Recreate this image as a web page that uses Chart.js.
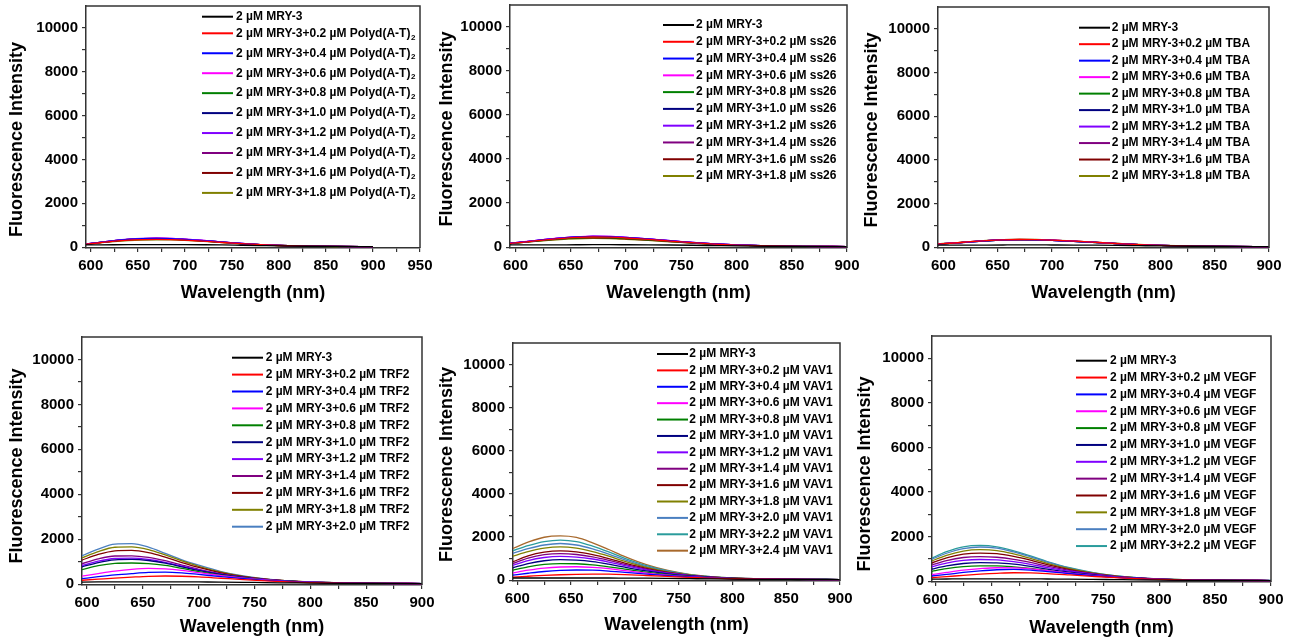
<!DOCTYPE html>
<html>
<head>
<meta charset="utf-8">
<title>MRY-3 titration spectra</title>
<script src="https://cdn.jsdelivr.net/npm/chart.js@4.4.1/dist/chart.umd.min.js"></script>
<style>
  html, body { margin:0; padding:0; background:#fff; }
  #wrap { position:relative; width:1295px; height:643px; overflow:hidden; background:#fff; }
  #wrap canvas { position:absolute; }
</style>
</head>
<body>
<div id="wrap"></div>
<script>
// emission wavelengths (nm) the spectra were read at
const wavelength = [595,610,625,640,655,670,685,700,720,740,760,780,800,830,860,900];

// added concentrations (µM)
const conc10 = ['0.2','0.4','0.6','0.8','1.0','1.2','1.4','1.6','1.8'];
const conc11 = ['0.2','0.4','0.6','0.8','1.0','1.2','1.4','1.6','1.8','2.0'];
const conc12 = ['0.2','0.4','0.6','0.8','1.0','1.2','1.4','1.6','1.8','2.0','2.2'];
const conc13 = ['0.2','0.4','0.6','0.8','1.0','1.2','1.4','1.6','1.8','2.0','2.2','2.4'];

// tick marks (every one) and the ones that get a label
const yTickMarks = [0,1000,2000,3000,4000,5000,6000,7000,8000,9000,10000];
const yTickLabels = [0,2000,4000,6000,8000,10000];
const xTickMarks = [600,625,650,675,700,725,750,775,800,825,850,875,900,925,950];
const xTickLabels = [600,650,700,750,800,850,900,950];

const lineColors = ['#000000','#FF0000','#0000FF','#FF00FF','#008000','#000080','#8000FF',
                    '#800080','#800000','#808000','#4A7FC0','#2A9C9C','#A8692C'];

// fluorescence intensity, one row per sample (first row = MRY-3 alone)
const polydData = [
  [100,105,108,110,112,115,115,113,108,100,85,70,55,40,30,20],
  [130,200,270,320,345,355,345,320,270,210,155,110,75,45,30,20],
  [140,215,295,355,390,400,390,355,300,230,165,115,78,46,30,20],
  [140,215,295,355,392,405,395,360,302,232,166,116,78,46,30,20],
  [135,210,285,340,370,380,370,340,285,222,160,112,76,45,30,20],
  [138,212,290,350,385,395,385,352,298,228,163,114,77,46,30,20],
  [142,220,300,362,398,410,400,365,305,235,168,117,79,46,30,20],
  [140,216,296,356,392,402,392,358,300,231,165,115,78,46,30,20],
  [132,205,278,333,362,372,362,333,280,218,158,111,75,45,30,20],
  [125,190,255,300,325,335,328,305,260,205,150,106,73,44,29,20]
];
const ss26Data = [
  [100,100,102,105,108,110,110,108,104,97,85,70,55,40,30,22],
  [170,240,320,390,440,460,450,415,350,275,200,140,95,55,35,25],
  [175,250,335,410,465,490,480,440,370,290,210,145,98,56,36,25],
  [178,255,340,415,470,495,485,445,375,292,212,146,98,56,36,25],
  [165,235,310,375,420,440,430,395,335,262,192,135,92,54,35,25],
  [170,245,325,400,455,478,468,430,362,283,205,142,96,55,36,25],
  [176,252,338,412,468,492,482,442,372,291,211,146,98,56,36,25],
  [172,248,330,405,460,483,473,435,366,286,207,143,97,56,36,25],
  [165,232,305,365,405,420,412,380,322,252,185,130,90,53,35,25],
  [160,225,290,345,380,395,388,358,305,240,177,125,87,52,34,25]
];
const tbaData = [
  [90,90,92,95,98,100,100,98,95,90,80,67,54,40,30,22],
  [150,190,250,300,335,350,345,320,275,220,165,118,82,50,34,25],
  [145,185,243,292,326,340,336,312,268,215,162,116,80,49,33,25],
  [148,188,247,296,330,345,340,316,272,218,164,117,81,50,34,25],
  [143,182,240,288,322,336,332,308,265,213,160,115,80,49,33,25],
  [140,180,236,284,318,332,328,305,262,211,159,114,79,49,33,25],
  [146,186,245,294,328,342,338,314,270,217,163,117,81,50,34,25],
  [144,184,242,290,324,338,334,310,267,214,161,116,80,49,33,25],
  [150,192,252,302,338,352,347,322,277,222,166,119,82,50,34,25],
  [155,195,255,305,340,355,350,325,280,224,168,120,83,51,34,25]
];
const trf2Data = [
  [90,95,100,100,100,100,100,95,90,80,65,55,45,35,28,22],
  [170,220,270,310,345,360,350,320,260,200,145,100,70,45,32,25],
  [240,330,410,470,520,535,500,430,330,240,165,115,80,48,33,25],
  [350,470,580,660,700,680,610,510,380,270,185,125,85,50,34,25],
  [640,820,920,940,910,830,700,560,400,280,190,128,86,50,34,25],
  [760,960,1080,1100,1050,930,770,610,430,295,198,132,88,50,34,25],
  [820,1020,1140,1160,1100,970,800,630,440,300,200,133,88,50,34,25],
  [900,1120,1250,1260,1190,1040,850,660,455,308,204,135,89,50,34,25],
  [1060,1320,1480,1500,1400,1200,960,740,500,330,215,140,92,52,35,25],
  [1160,1450,1640,1660,1540,1300,1030,790,530,345,222,144,94,53,35,25],
  [1250,1560,1780,1800,1650,1370,1080,840,560,360,230,148,96,54,36,26]
];
const vav1Data = [
  [100,100,100,100,100,100,100,95,90,80,68,56,46,36,30,25],
  [140,180,220,250,270,280,275,255,215,170,125,90,65,45,33,26],
  [230,320,400,450,470,460,420,360,280,205,145,100,70,47,34,26],
  [330,460,560,610,620,590,530,440,330,235,160,108,74,48,34,26],
  [450,620,730,770,760,710,620,510,370,260,172,115,78,50,35,26],
  [560,770,900,950,930,860,740,600,430,295,192,125,83,52,36,26],
  [670,910,1050,1100,1070,980,840,670,475,320,205,132,86,53,36,26],
  [750,1020,1180,1230,1190,1080,920,730,510,340,215,138,89,54,37,26],
  [830,1130,1300,1360,1310,1180,1000,790,545,360,225,143,92,55,37,26],
  [1100,1320,1480,1540,1480,1320,1110,870,590,385,238,150,95,56,38,27],
  [1230,1460,1630,1700,1630,1450,1210,940,630,405,248,155,97,57,38,27],
  [1350,1600,1790,1860,1790,1580,1310,1010,670,425,258,160,100,58,39,27],
  [1450,1760,1990,2050,1980,1730,1420,1090,715,448,270,166,103,59,39,27]
];
const vegfData = [
  [90,95,100,100,100,100,100,95,90,80,68,56,46,36,30,25],
  [150,200,260,310,350,375,370,340,280,215,155,108,75,48,34,26],
  [220,300,390,460,510,525,495,430,335,245,170,117,80,50,35,26],
  [280,390,490,560,600,595,550,470,360,260,178,121,82,51,35,26],
  [420,560,650,680,680,640,570,475,360,260,178,121,82,51,35,26],
  [520,680,790,830,820,760,660,540,400,285,192,128,86,52,36,26],
  [620,810,930,970,950,870,750,610,445,310,205,135,89,53,36,26],
  [700,920,1060,1100,1070,980,840,670,480,330,215,140,91,54,37,26],
  [780,1040,1210,1260,1230,1110,940,740,520,350,225,145,93,55,37,26],
  [870,1160,1350,1410,1370,1220,1020,800,555,365,232,148,95,55,37,26],
  [940,1250,1460,1530,1480,1310,1090,850,580,380,240,152,97,56,38,27],
  [990,1320,1540,1600,1540,1360,1130,880,600,390,245,155,98,56,38,27]
];

const FONT = '"Liberation Sans", Arial, Helvetica, sans-serif';
const AXW = 90, AXH = 60, PADT = 20, PADR = 20;

// panel boxes are page pixels of the plot frame
const panels = [
  {target:'Polyd(A-T)₂', conc:conc10, values:polydData, box:{l:86,t:6,r:420,b:248}, xMin:595, xMax:950,
   yTitleX:16.7, yTitleShift:5, xTitleY:293.3, legend:{x:202, y:16.7, firstGap:16.6, gap:19.95, textX:236}},
  {target:'ss26', conc:conc10, values:ss26Data, box:{l:510,t:5,r:847,b:248}, xMin:595, xMax:900,
   yTitleX:446.7, yTitleShift:1, xTitleY:293.3, legend:{x:663, y:25, firstGap:16.78, gap:16.78, textX:696}},
  {target:'TBA', conc:conc10, values:tbaData, box:{l:938,t:7,r:1269,b:248}, xMin:595, xMax:900,
   yTitleX:871.7, yTitleShift:1, xTitleY:293.3, legend:{x:1079, y:27.7, firstGap:16.48, gap:16.48, textX:1111.7}},
  {target:'TRF2', conc:conc11, values:trf2Data, box:{l:82,t:337,r:422,b:585}, xMin:595.5, xMax:900,
   yTitleX:16.7, yTitleShift:2, xTitleY:626.7, legend:{x:232, y:357.7, firstGap:16.9, gap:16.9, textX:265.7}},
  {target:'VAV1', conc:conc13, values:vav1Data, box:{l:513,t:343,r:840,b:581}, xMin:596, xMax:900,
   yTitleX:446.7, yTitleShift:1, xTitleY:625, legend:{x:657, y:354, firstGap:16.39, gap:16.39, textX:689.3}},
  {target:'VEGF', conc:conc12, values:vegfData, box:{l:932,t:336,r:1271,b:582}, xMin:597, xMax:900,
   yTitleX:865, yTitleShift:6, xTitleY:628.3, legend:{x:1076, y:360.7, firstGap:16.85, gap:16.85, textX:1110}}
];

// top + right edges of the frame
const framePlugin = {
  id: 'frame',
  afterDraw(chart) {
    const {ctx, chartArea: a} = chart;
    ctx.save();
    ctx.strokeStyle = '#333';
    ctx.lineWidth = 1.5;
    ctx.beginPath();
    ctx.moveTo(a.left, a.top);
    ctx.lineTo(a.right, a.top);
    ctx.lineTo(a.right, a.bottom);
    ctx.stroke();
    ctx.restore();
  }
};

// Origin-style legend inside the plot
const legendPlugin = {
  id: 'specLegend',
  afterDraw(chart, args, opts) {
    const ctx = chart.ctx;
    ctx.save();
    ctx.textBaseline = 'middle';
    let y = opts.y;
    chart.data.datasets.forEach((ds, i) => {
      if (i == 1) y += opts.firstGap;
      else if (i > 1) y += opts.gap;
      ctx.strokeStyle = ds.borderColor;
      ctx.lineWidth = 2;
      ctx.beginPath();
      ctx.moveTo(opts.x, y);
      ctx.lineTo(opts.x + 31, y);
      ctx.stroke();
      let text = ds.label, sub = '';
      if (text.endsWith('₂')) { text = text.slice(0, -1); sub = '2'; }
      ctx.fillStyle = '#000';
      ctx.font = 'bold 12px ' + FONT;
      ctx.fillText(text, opts.textX, y);
      if (sub) {
        const w = ctx.measureText(text).width;
        ctx.font = 'bold 8px ' + FONT;
        ctx.fillText(sub, opts.textX + w + 0.5, y + 4);
      }
    });
    ctx.restore();
  }
};

function makePanel(p, n) {
  const left = p.box.l - AXW, top = p.box.t - PADT;
  const w = p.box.r - p.box.l + AXW + PADR;
  const h = p.box.b - p.box.t + PADT + AXH;
  const canvas = document.createElement('canvas');
  canvas.id = 'panel' + n;
  canvas.width = w; canvas.height = h;
  canvas.style.left = left + 'px';
  canvas.style.top = top + 'px';
  canvas.style.width = w + 'px';
  canvas.style.height = h + 'px';
  document.getElementById('wrap').appendChild(canvas);

  const labels = ['2 µM MRY-3'].concat(p.conc.map(c => '2 µM MRY-3+' + c + ' µM ' + p.target));
  const datasets = p.values.map((vals, i) => ({
    label: labels[i],
    data: wavelength.map((wl, k) => ({x: wl, y: vals[k]})),
    borderColor: lineColors[i],
    backgroundColor: lineColors[i],
    borderWidth: 1.3,
    pointRadius: 0,
    cubicInterpolationMode: 'monotone',
    fill: false
  }));

  const tickFont = {family: FONT, size: 15, weight: 'bold'};
  const titleFont = {family: FONT, size: 18, weight: 'bold'};
  // trailing blanks nudge the rotated title down along the axis, like the original
  const yTitle = 'Fluorescence Intensity' + '\u00a0'.repeat(p.yTitleShift);

  return new Chart(canvas.getContext('2d'), {
    type: 'line',
    data: {datasets: datasets},
    options: {
      responsive: false,
      animation: false,
      events: [],
      devicePixelRatio: 1,
      layout: {padding: {left: 0, top: PADT, right: PADR, bottom: 0}},
      scales: {
        x: {
          type: 'linear',
          min: p.xMin, max: p.xMax,
          afterFit: (s) => { s.height = AXH; },
          afterBuildTicks: (s) => { s.ticks = xTickMarks.filter(v => v <= p.xMax).map(v => ({value: v})); },
          ticks: {
            autoSkip: false, maxRotation: 0, padding: 5,
            color: '#000', font: tickFont,
            callback: (v) => xTickLabels.includes(v) ? String(v) : ''
          },
          grid: {display: true, drawOnChartArea: false, drawTicks: true, tickLength: 4, color: '#333', lineWidth: 1.2},
          border: {display: true, color: '#333', width: 1.5},
          title: {display: true, text: 'Wavelength (nm)', color: '#000', font: titleFont,
                  padding: {top: 0, bottom: p.box.b + AXH - p.xTitleY - 10.8}}
        },
        y: {
          type: 'linear',
          min: -40, max: 11000,
          afterFit: (s) => { s.width = AXW; },
          afterBuildTicks: (s) => { s.ticks = yTickMarks.map(v => ({value: v})); },
          ticks: {
            autoSkip: false, padding: 4,
            color: '#000', font: tickFont,
            callback: (v) => yTickLabels.includes(v) ? String(v) : ''
          },
          grid: {display: true, drawOnChartArea: false, drawTicks: true, tickLength: 4, color: '#333', lineWidth: 1.2},
          border: {display: true, color: '#333', width: 1.5},
          title: {display: true, text: yTitle, color: '#000', font: titleFont,
                  padding: {top: p.yTitleX - left - 10.8, bottom: 0}}
        }
      },
      plugins: {
        legend: {display: false},
        tooltip: {enabled: false},
        specLegend: {
          x: p.legend.x - left, y: p.legend.y - top,
          textX: p.legend.textX - left,
          firstGap: p.legend.firstGap, gap: p.legend.gap
        }
      }
    },
    plugins: [framePlugin, legendPlugin]
  });
}

const charts = panels.map((p, n) => makePanel(p, n + 1));
</script>
</body>
</html>
